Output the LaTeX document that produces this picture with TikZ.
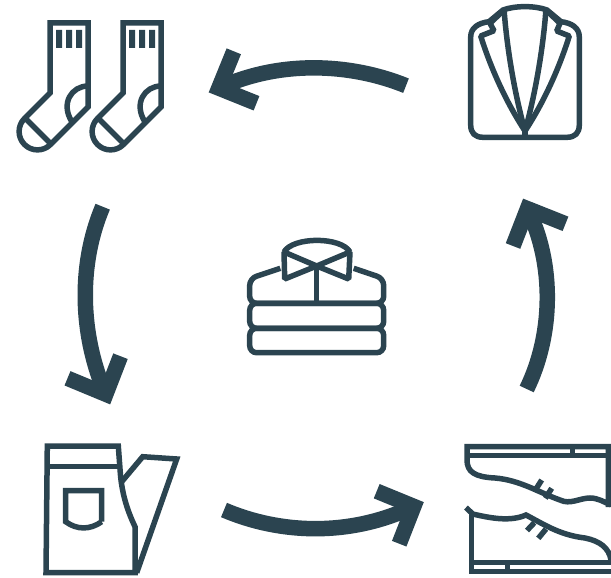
\documentclass[tikz,border=0pt]{standalone}
\definecolor{ink}{HTML}{2B4450}
\tikzset{
  icon/.style={draw=ink,line width=5.5pt,line join=miter,fill=none},
  soft icon/.style={icon,line join=bevel},
  rib/.style={fill=ink,draw=none},
  shaft/.style={draw=ink,line width=15.5pt,line cap=butt},
  head/.style={draw=ink,line width=15.5pt,line cap=butt,line join=miter,miter limit=10}
}
\begin{document}
\begin{tikzpicture}[x=1pt,y=-1pt]
\useasboundingbox (0,0) rectangle (611,578);
\clip (0,0) rectangle (611,578);
% socks
\foreach \dx in {0,73}{
\begin{scope}[xshift=\dx pt]
  \draw[icon] (50,93) -- (50,23) -- (88,23) -- (88,107) -- (50.5,144.5)
     .. controls (43.3,151.7) and (31.7,151.7) .. (24.5,144.5)
     .. controls (17.3,137.3) and (17.3,125.7) .. (24.5,118.5) -- cycle;
  \draw[icon] (26.5,119.5) -- (50,143);
  \draw[icon] (88,86) .. controls (72,86) and (60,103) .. (72,122);
  \fill[rib] (56,30) rectangle (62,48) (66,30) rectangle (72,48) (76,30) rectangle (82,48);
\end{scope}}
% jacket
\draw[soft icon] (525,137.3) -- (483,137.3) .. controls (475,137.3) and (470.7,133) .. (470.7,125)
  -- (470.7,37) .. controls (470.7,28) and (478,23) .. (489,21.7)
  -- (503,10) .. controls (515,5.5) and (535,5.5) .. (547,10) -- (561,21.7)
  .. controls (572,23) and (579.3,28) .. (579.3,37) -- (579.3,125)
  .. controls (579.3,133) and (575,137.3) .. (567,137.3) -- cycle;
\draw[soft icon] (504,10) -- (490,23.3) -- (494,30.7) -- (480.7,36)
  .. controls (492,72) and (508,105) .. (525,131);
\draw[soft icon] (546,10) -- (560,23.3) -- (556.7,31) -- (569.3,36)
  .. controls (558,72) and (542,105) .. (525,131);
\draw[icon] (504,9) .. controls (507,50) and (515,95) .. (525,131);
\draw[icon] (546,9) .. controls (543,50) and (535,95) .. (525,131);
\draw[icon] (525,122) -- (525,137);
% pants
\draw[icon] (47.3,446) -- (118.3,446) -- (120.3,473)
  .. controls (122,495) and (128,512) .. (135,526.7) -- (135,572.7) -- (46,572.7) -- cycle;
\draw[icon] (47,466.7) -- (119.5,466.7);
\draw[icon] (121.7,481.7) -- (142.7,456.7) -- (176.7,459) -- (136.7,572.7);
\draw[icon] (101.7,521.7) -- (101.7,490.7) -- (65.7,490.7) -- (65.7,521.7)
  .. controls (77,530) and (90,530) .. (101.7,521.7);
% shoes top
\draw[icon] (608.3,507) -- (608.3,446.7) -- (467,446.7) -- (467,460)
  .. controls (467,472) and (475,477) .. (495,478)
  .. controls (520,480) and (540,493) .. (560,500)
  .. controls (570,505) and (580,498) .. (590,498)
  .. controls (598,498) and (604,502) .. (611,505);
\draw[icon] (467,455.3) -- (611,455.3);
\draw[icon] (572.7,446.7) -- (572.7,455.3);
\draw[icon] (541.7,480) -- (534.3,491.7);
\draw[icon] (551.7,488.3) -- (545.3,498.3);
% shoes bottom
\draw[icon] (466,507.5) -- (472.7,514) .. controls (490,518) and (510,522) .. (526,515)
  .. controls (545,525) and (560,535) .. (585,538)
  .. controls (600,541) and (609,548) .. (611,560);
\draw[icon] (471.7,514) -- (471.7,571.7) -- (611,571.7);
\draw[icon] (471.7,562.3) -- (611,562.3);
\draw[icon] (507.7,562.3) -- (507.7,571.7);
\draw[icon] (527,530.5) -- (534.3,522.7);
\draw[icon] (538.3,538.3) -- (546,529);
% shirt
\draw[icon,rounded corners=7pt] (249.7,303.3) rectangle (383.7,328.3);
\draw[icon,rounded corners=7pt] (249.7,328.3) rectangle (383.7,352.7);
\draw[icon,rounded corners=7pt] (280.3,268.3) -- (249.7,278.5) -- (249.7,303.3) -- (383.7,303.3) -- (383.7,278.5) -- (353.7,268.3);
\draw[soft icon] (316.7,266) -- (284,252) -- (284.7,279) -- cycle;
\draw[soft icon] (316.7,266) -- (350,252) -- (348.7,279) -- cycle;
\draw[icon] (284,252) .. controls (293,236.5) and (341,236.5) .. (350,252);
\draw[icon] (316.7,266) -- (316.7,303);
% cycle arrows
\coordinate (topS) at (406,85.7);   \coordinate (topE) at (218.8,88.1);
\coordinate (topA) at (233.8,51.3); \coordinate (topB) at (256.5,103.3);
\coordinate (leftS) at (102.7,206.7); \coordinate (leftE) at (105.8,394.2);
\coordinate (leftA) at (67.5,378.3);  \coordinate (leftB) at (120.5,356.2);
\coordinate (botS) at (224,510);    \coordinate (botE) at (413.8,506.4);
\coordinate (botA) at (376.7,491.2); \coordinate (botB) at (399.2,543.7);
\coordinate (rightS) at (526.7,389); \coordinate (rightE) at (527.5,208.7);
\coordinate (rightA) at (565.5,223.8); \coordinate (rightB) at (513,246);
\draw[shaft] (topS) .. controls (350,63) and (280,60) .. (topE);
\draw[head] (topA) -- (topE) -- (topB);
\draw[shaft] (leftS) .. controls (78,265) and (80,335) .. (leftE);
\draw[head] (leftA) -- (leftE) -- (leftB);
\draw[shaft] (botS) .. controls (280,534) and (350,537) .. (botE);
\draw[head] (botA) -- (botE) -- (botB);
\draw[shaft] (rightS) .. controls (553,335) and (555,265) .. (rightE);
\draw[head] (rightA) -- (rightE) -- (rightB);
\end{tikzpicture}
\end{document}
